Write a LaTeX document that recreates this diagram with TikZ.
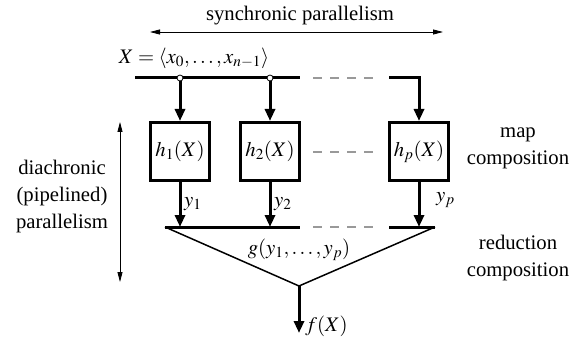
\documentclass[tikz,border=0pt]{standalone}
\usepackage{mathptmx}
\usepackage[no-math]{fontspec}
\setmainfont{Liberation Serif}
\usetikzlibrary{arrows.meta}
\begin{document}
\begin{tikzpicture}[x=1pt,y=-1pt,
  font=\fontsize{20.7}{27}\selectfont,
  bus/.style={line width=3pt},
  arr/.style={line width=3pt,-{Triangle[length=12pt,width=10pt]}},
  thinarr/.style={line width=0.8pt,{Triangle[length=10pt,width=5pt]}-{Triangle[length=10pt,width=5pt]}},
  dsh/.style={line width=1.5pt,draw=black!40,dash pattern=on 9pt off 8pt},
  hbox/.style={draw,line width=3pt,minimum width=59pt,minimum height=58pt,inner sep=0pt},
  tap/.style={circle,draw,fill=white,line width=0.8pt,minimum size=6pt,inner sep=0pt},
  lbl/.style={inner sep=1pt}]
\path[use as bounding box] (0,0) rectangle (576,342);
% synchronic
\coordinate (sL) at (150,32);
\coordinate (sR) at (443,32);
\draw[thinarr] (sL) -- (sR);
\node[lbl] (sync) at (300,16) {synchronic parallelism};
% diachronic
\coordinate (dT) at (120,122);
\coordinate (dB) at (120,282);
\draw[thinarr] (dT) -- (dB);
\node[lbl,align=center] (dia) at (62,197) {diachronic\\(pipelined)\\parallelism};
% right labels
\node[lbl,align=center] (map) at (518,148) {map\\composition};
\node[lbl,align=center] (red) at (518,258) {reduction\\composition};
% input label
\node[lbl] (X) at (194,58) {$X=\langle x_0,\ldots,x_{n-1}\rangle$};
% boxes
\node[hbox] (h1) at (180,151.5) {$h_1(X)$};
\node[hbox] (h2) at (270,151.5) {$h_2(X)$};
\node[hbox] (hp) at (419,151.5) {$h_p(X)$};
% top bus
\coordinate (tbL) at (135,78);
\coordinate (tbR) at (300,78);
\coordinate (tdL) at (313,78);
\coordinate (tdR) at (377,78);
\coordinate (tcL) at (389,78);
\draw[bus] (tbL) -- (tbR);
\draw[dsh] (tdL) -- (tdR);
\draw[arr] (tcL) -| (hp.north);
\node[tap] (c1) at (180,78) {};
\node[tap] (c2) at (270,78) {};
\draw[arr] (c1.south) -- (h1.north);
\draw[arr] (c2.south) -- (h2.north);
% middle dashes
\coordinate (mdL) at (313,152);
\coordinate (mdR) at (377,152);
\draw[dsh] (mdL) -- (mdR);
% bottom bus
\coordinate (bbL) at (165,227);
\coordinate (bbR) at (300,227);
\coordinate (bdL) at (313,227);
\coordinate (bdR) at (377,227);
\coordinate (bcL) at (389,227);
\coordinate (bcR) at (435,227);
\coordinate (b1) at (180,227);
\coordinate (b2) at (270,227);
\coordinate (bp) at (419,227);
\draw[bus] (bbL) -- (bbR);
\draw[dsh] (bdL) -- (bdR);
\draw[bus] (bcL) -- (bcR);
\draw[arr] (h1.south) -- (b1);
\draw[arr] (h2.south) -- (b2);
\draw[arr] (hp.south) -- (bp);
\node[lbl,anchor=west] (y1) at (183,204) {$y_1$};
\node[lbl,anchor=west] (y2) at (273,204) {$y_2$};
\node[lbl,anchor=west] (yp) at (435,200) {$y_p$};
% reduction triangle
\coordinate (apex) at (299,286);
\draw[line width=1.5pt,line join=miter] (bbL) -- (apex) -- (bcR);
\node[lbl] (g) at (299,250) {$g(y_1,\ldots,y_p)$};
\coordinate (out) at (299,333);
\draw[arr] (apex) -- (out);
\node[lbl,anchor=west] (f) at (304,326) {$f(X)$};
\end{tikzpicture}
\end{document}
